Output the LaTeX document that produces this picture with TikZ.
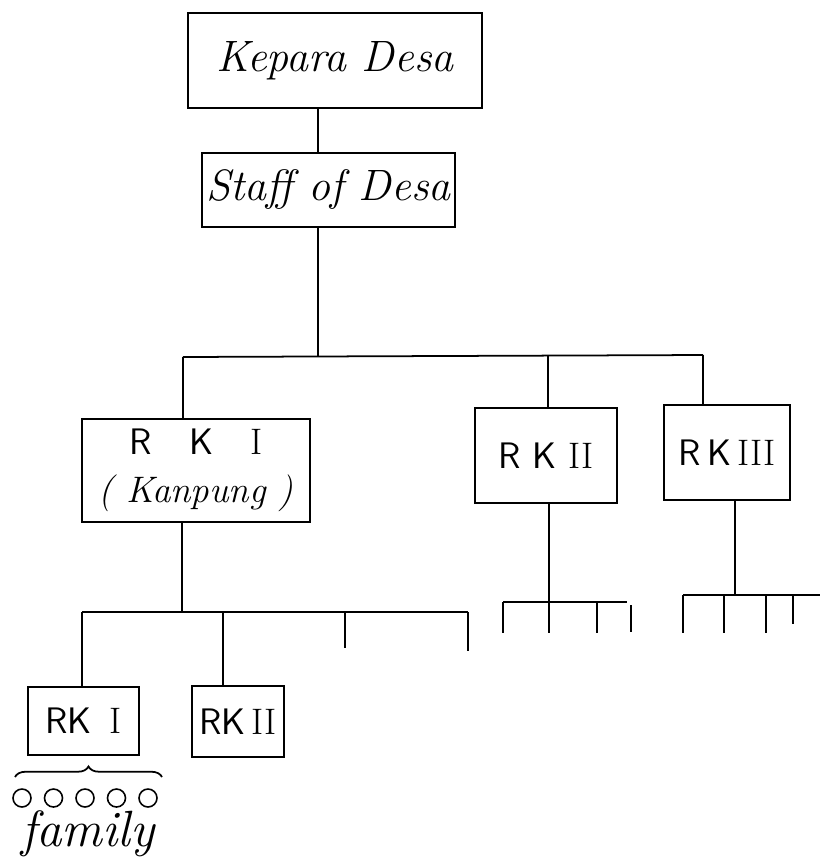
\documentclass[tikz,border=0pt]{standalone}
\usetikzlibrary{calc,decorations.pathreplacing}
\tikzset{
  box/.style={draw, line width=1pt, inner sep=0pt},
  link/.style={line width=1pt},
  hand/.style={font=\fontsize{25}{29}\selectfont\itshape},
  rkfont/.style={font=\fontsize{21}{25}\selectfont\sffamily},
  famcircle/.style={draw, circle, line width=0.9pt, minimum size=0.36cm, inner sep=0pt}
}

\begin{document}
\begin{tikzpicture}[x=0.02cm, y=-0.02cm]
			%%%%% START %%%%%
			\useasboundingbox (0, 0) rectangle (820, 860);
			
			\node[box, hand, minimum width=5.88cm, minimum height=1.9cm] (kepara) at (335, 60.5) {Kepara Desa};
			\node[box, hand, minimum width=5.06cm, minimum height=1.48cm] (staff) at (328.5, 190) {Staff of Desa};
			
			\node[box, rkfont, minimum width=4.56cm, minimum height=2.06cm, align=center] (rkone) at (196, 470.5)
			  {R\quad K\quad {\rmfamily I}\\[2pt]{\rmfamily\itshape ( Kanpung )}};
			\node[box, rkfont, minimum width=2.84cm, minimum height=1.9cm] (rktwo) at (546, 455.5) {R\ K\ {\rmfamily II}};
			\node[box, rkfont, minimum width=2.52cm, minimum height=1.9cm] (rkthree) at (727, 452.5) {R\,K\,{\rmfamily III}};
			
			\node[box, rkfont, minimum width=2.22cm, minimum height=1.36cm] (subone) at (83.5, 721) {RK\enspace{\rmfamily I}};
			\node[box, rkfont, minimum width=1.84cm, minimum height=1.42cm] (subtwo) at (238, 721.5) {RK\,{\rmfamily II}};
			
			% main trunk
			\coordinate (trunk) at (318, 357);
			\coordinate (barL) at (183, 357);
			\coordinate (barM) at (548, 356);
			\coordinate (barR) at (703, 355);
			\draw[link] (kepara.south -| trunk) -- (staff.north -| trunk);
			\draw[link] (staff.south -| trunk) -- (trunk);
			\draw[link] (barL) -- (barR);
			\draw[link] (barL) -- (barL |- rkone.north);
			\draw[link] (barM) -- (barM |- rktwo.north);
			\draw[link] (barR) -- (barR |- rkthree.north);
			
			% under RK I
			\coordinate (lowL) at (82, 612);
			\coordinate (lowR) at (468, 612);
			\draw[link] (rkone.south -| 182, 0) -- (182, 612);
			\draw[link] (lowL) -- (lowR);
			\draw[link] (lowL) -- (lowL |- subone.north);
			\draw[link] (223, 612) -- (223, 0 |- subtwo.north);
			\draw[link] (345, 612) -- (345, 648);
			\draw[link] (lowR) -- (468, 651);
			
			% under RK II
			\draw[link] (rktwo.south -| 549, 0) -- (549, 602);
			\draw[link] (503, 602) -- (627, 602);
			\foreach \x in {503, 549, 597}
			  \draw[link] (\x, 602) -- (\x, 633);
			\draw[link] (631, 605) -- (631, 632);
			
			% under RK III
			\draw[link] (rkthree.south -| 735, 0) -- (735, 595);
			\draw[link] (683, 595) -- (820, 595);
			\foreach \x in {683, 724, 766}
			  \draw[link] (\x, 595) -- (\x, 633);
			\draw[link] (793, 595) -- (793, 624);
			
			% family
			\draw[link, decorate, decoration={brace, amplitude=6pt}] (15, 777) -- (162, 777);
			\foreach \i in {1, ..., 5}
			  \node[famcircle] (fam\i) at ({22 + 31.5*(\i-1)}, 798) {};
			\node[hand, font=\fontsize{29}{33}\selectfont\itshape] (family) at (88, 834) {family};
			
			%%%%% END %%%%%
\end{tikzpicture}
\end{document}
